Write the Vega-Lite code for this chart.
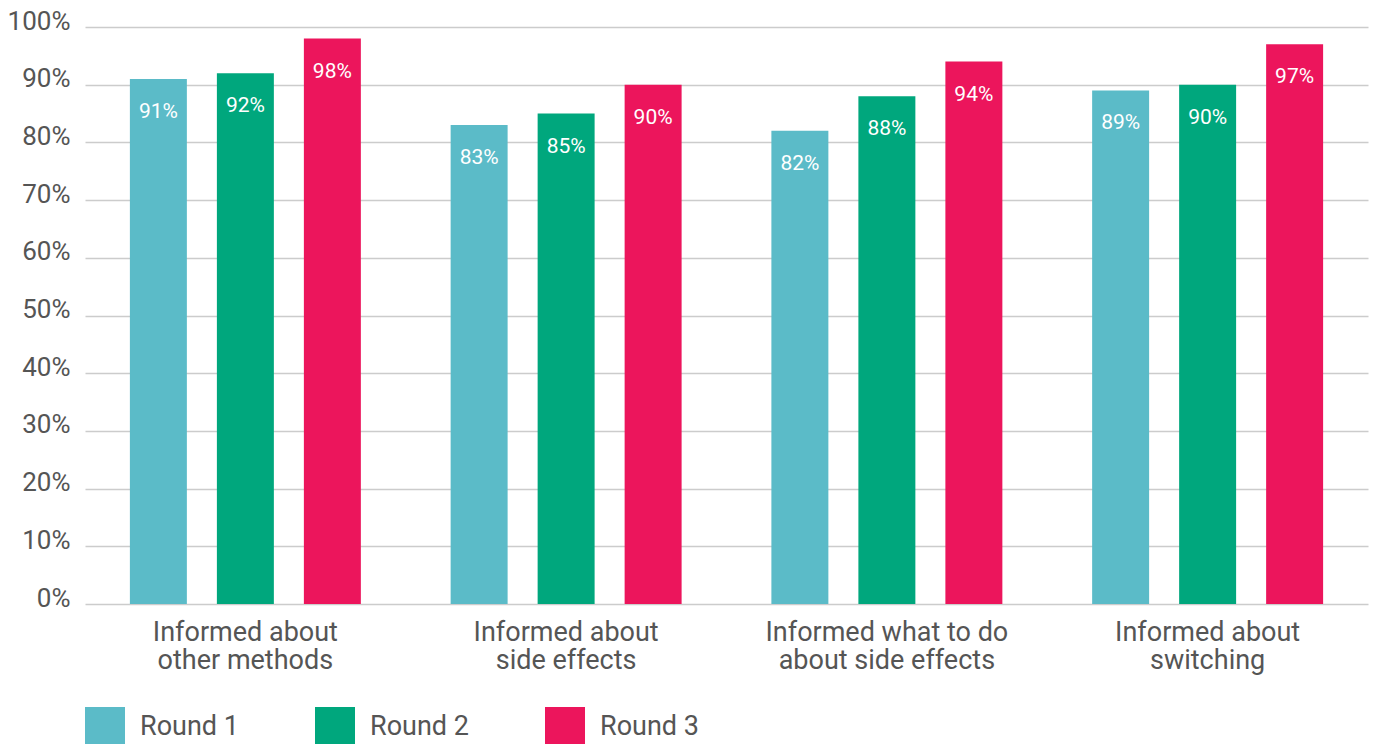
{
  "$schema": "https://vega.github.io/schema/vega-lite/v6.json",
  "width": 1283,
  "height": 577,
  "autosize": {"type": "none"},
  "padding": {"left": 85, "top": 27, "right": 5, "bottom": 140},
  "background": "white",
  "data": {
    "values": [
      {"q": "Informed about other methods", "round": "Round 1", "v": 91},
      {"q": "Informed about other methods", "round": "Round 2", "v": 92},
      {"q": "Informed about other methods", "round": "Round 3", "v": 98},
      {"q": "Informed about side effects", "round": "Round 1", "v": 83},
      {"q": "Informed about side effects", "round": "Round 2", "v": 85},
      {"q": "Informed about side effects", "round": "Round 3", "v": 90},
      {"q": "Informed what to do about side effects", "round": "Round 1", "v": 82},
      {"q": "Informed what to do about side effects", "round": "Round 2", "v": 88},
      {"q": "Informed what to do about side effects", "round": "Round 3", "v": 94},
      {"q": "Informed about switching", "round": "Round 1", "v": 89},
      {"q": "Informed about switching", "round": "Round 2", "v": 90},
      {"q": "Informed about switching", "round": "Round 3", "v": 97}
    ]
  },
  "encoding": {
    "x": {
      "field": "q",
      "type": "nominal",
      "sort": null,
      "scale": {"paddingInner": 0, "paddingOuter": 0},
      "axis": {
        "title": null,
        "domain": false,
        "ticks": false,
        "labelAngle": 0,
        "labelFontSize": 27,
        "labelColor": "#555555",
        "labelPadding": 15,
        "labelLineHeight": 28,
        "labelLimit": 400,
        "labelExpr": "datum.value == 'Informed what to do about side effects' ? ['Informed what to do', 'about side effects'] : ['Informed about', replace(datum.value, 'Informed about ', '')]"
      }
    },
    "xOffset": {
      "field": "round",
      "type": "nominal",
      "sort": null,
      "scale": {"paddingInner": 0.345, "paddingOuter": 0.516}
    },
    "y": {
      "field": "v",
      "type": "quantitative",
      "scale": {"domain": [0, 100], "nice": false},
      "axis": {
        "title": null,
        "values": [0, 10, 20, 30, 40, 50, 60, 70, 80, 90, 100],
        "labelExpr": "datum.value + '%'",
        "domain": false,
        "ticks": false,
        "grid": true,
        "gridColor": "#cccccc",
        "gridWidth": 1.5,
        "labelFontSize": 26,
        "labelColor": "#555555",
        "labelPadding": 15,
        "labelOffset": -6
      }
    }
  },
  "layer": [
    {
      "mark": {"type": "bar"},
      "encoding": {
        "color": {
          "field": "round",
          "type": "nominal",
          "sort": null,
          "scale": {
            "domain": ["Round 1", "Round 2", "Round 3"],
            "range": ["#5bbbc8", "#00a77d", "#ec155c"]
          },
          "legend": {
            "title": null,
            "orient": "none",
            "legendX": 0,
            "legendY": 680,
            "direction": "horizontal",
            "padding": 0,
            "symbolType": "square",
            "symbolSize": 1600,
            "symbolStrokeWidth": 0,
            "symbolOpacity": 1,
            "labelFontSize": 27,
            "labelColor": "#555555",
            "labelOffset": 15,
            "labelLimit": 300,
            "columnPadding": 76
          }
        }
      }
    },
    {
      "mark": {
        "type": "text",
        "color": "white",
        "fontSize": 21,
        "baseline": "middle",
        "dy": 33,
        "text": {"expr": "datum.v + '%'"}
      }
    }
  ],
  "config": {
    "font": "Roboto",
    "view": {"stroke": null}
  }
}
